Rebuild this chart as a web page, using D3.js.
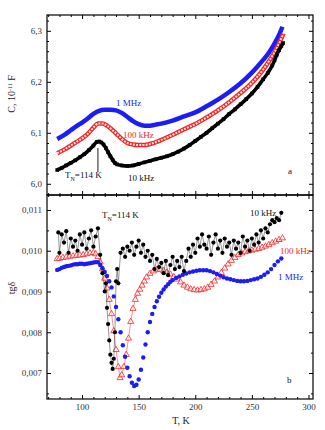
<!DOCTYPE html>
<meta charset="utf-8">
<style>
body {
  margin: 0;
  background: #fff;
}

.axis text {
  font: 9px "Liberation Serif", serif;
  fill: #333;
}

.axis line {
  stroke: #000;
}

.label {
  font: 9px "Liberation Serif", serif;
}

.title {
  font: 10px "Liberation Serif", serif;
  fill: #222;
}
</style>
<body>
  <div id="chart"></div>
</body>
<script src="https://cdn.jsdelivr.net/npm/d3@7/dist/d3.min.js"></script>
<script>

// capacitance C (10^-11 F) vs temperature, panel a
var capT1MHz = [78, 85, 90, 95, 100, 105, 110, 115, 120, 125, 130, 135, 140, 145, 150, 155, 160, 165, 170, 180, 190, 200, 210, 220, 230, 240, 250, 260, 265, 270, 274, 277];
var cap1MHz = [6.088, 6.097, 6.105, 6.113, 6.120, 6.128, 6.137, 6.143, 6.145, 6.145, 6.144, 6.139, 6.131, 6.123, 6.117, 6.114, 6.114, 6.116, 6.118, 6.124, 6.132, 6.140, 6.152, 6.165, 6.180, 6.197, 6.218, 6.243, 6.257, 6.275, 6.292, 6.308];

var capT100kHz = [78, 85, 90, 95, 100, 105, 110, 114, 118, 122, 126, 130, 135, 140, 145, 150, 155, 160, 170, 180, 190, 200, 210, 220, 230, 240, 250, 260, 265, 270, 275, 278];
var cap100kHz = [6.060, 6.068, 6.075, 6.082, 6.089, 6.098, 6.110, 6.118, 6.118, 6.114, 6.107, 6.099, 6.088, 6.080, 6.077, 6.076, 6.076, 6.078, 6.086, 6.096, 6.107, 6.117, 6.130, 6.144, 6.160, 6.178, 6.198, 6.224, 6.240, 6.258, 6.280, 6.295];

var capT10kHz = [78, 82, 86, 90, 94, 98, 102, 106, 110, 113, 115, 117, 119, 121, 123, 125, 127, 129, 131, 135, 140, 145, 150, 155, 160, 165, 170, 175, 180, 185, 190, 195, 200, 205, 210, 215, 220, 225, 230, 235, 240, 245, 250, 255, 260, 264, 268, 270, 272, 274, 276, 277.6];
var cap10kHz = [6.027, 6.031, 6.036, 6.041, 6.046, 6.052, 6.058, 6.066, 6.075, 6.082, 6.083, 6.081, 6.077, 6.070, 6.062, 6.054, 6.047, 6.041, 6.038, 6.036, 6.035, 6.036, 6.039, 6.042, 6.045, 6.048, 6.051, 6.054, 6.058, 6.063, 6.069, 6.076, 6.084, 6.092, 6.100, 6.109, 6.118, 6.127, 6.137, 6.146, 6.156, 6.166, 6.177, 6.190, 6.205, 6.217, 6.232, 6.242, 6.253, 6.262, 6.270, 6.276];

// loss tangent tg(delta) vs temperature, panel b
var tanT1MHz = [78, 80, 82, 84, 86, 88, 90, 92, 94, 96, 98, 100, 102, 104, 106, 108, 110, 112, 114, 116, 118, 120, 122, 124, 126, 128, 130, 132, 134, 136, 138, 140, 142, 144, 146, 148, 150, 152, 154, 156, 158, 160, 162, 164, 166, 168, 170, 172, 174, 176, 178, 180, 183, 186, 189, 192, 195, 198, 201, 204, 207, 210, 213, 216, 219, 222, 225, 228, 231, 234, 237, 240, 243, 246, 249, 252, 255, 258, 261, 264, 267, 270, 273, 276];
var tan1MHz = [0.00953, 0.00955, 0.00958, 0.00960, 0.00962, 0.00963, 0.00964, 0.00966, 0.00967, 0.00967, 0.00968, 0.00968, 0.00967, 0.00968, 0.00969, 0.00970, 0.00971, 0.00972, 0.00972, 0.00965, 0.00957, 0.00948, 0.00938, 0.00925, 0.00910, 0.00888, 0.00862, 0.00832, 0.00800, 0.00768, 0.00740, 0.00713, 0.00692, 0.00676, 0.00668, 0.00671, 0.00684, 0.00708, 0.00738, 0.00770, 0.00800, 0.00825, 0.00845, 0.00862, 0.00876, 0.00887, 0.00897, 0.00905, 0.00912, 0.00918, 0.00924, 0.00928, 0.00933, 0.00937, 0.00941, 0.00944, 0.00947, 0.00949, 0.00951, 0.00952, 0.00952, 0.00952, 0.00950, 0.00947, 0.00943, 0.00939, 0.00935, 0.00932, 0.00930, 0.00928, 0.00926, 0.00925, 0.00925, 0.00926, 0.00928, 0.00930, 0.00932, 0.00936, 0.00941, 0.00947, 0.00955, 0.00965, 0.00974, 0.00981];

var tanT100kHz = [78, 80, 83, 86, 89, 92, 95, 98, 101, 104, 107, 110, 112, 114, 116, 118, 120, 122, 124, 126, 128, 130, 132, 133.5, 135, 137, 139, 141, 143, 145, 147, 149, 151, 153, 155, 157, 160, 163, 166, 169, 172, 175, 178, 181, 184, 187, 190, 193, 196, 199, 202, 205, 208, 211, 214, 217, 220, 223, 226, 229, 232, 235, 238, 241, 244, 247, 250, 253, 256, 259, 262, 265, 268, 271, 274, 277];
var tan100kHz = [0.00980, 0.00981, 0.00983, 0.00984, 0.00986, 0.00987, 0.00988, 0.00989, 0.00990, 0.00992, 0.00994, 0.00995, 0.00992, 0.00985, 0.00972, 0.00955, 0.00932, 0.00908, 0.00880, 0.00845, 0.00803, 0.00757, 0.00715, 0.00688, 0.00695, 0.00715, 0.00745, 0.00785, 0.00826, 0.00858, 0.00880, 0.00895, 0.00905, 0.00915, 0.00925, 0.00935, 0.00944, 0.00950, 0.00954, 0.00954, 0.00951, 0.00947, 0.00942, 0.00936, 0.00930, 0.00923, 0.00915, 0.00910, 0.00906, 0.00904, 0.00903, 0.00904, 0.00906, 0.00910, 0.00917, 0.00925, 0.00935, 0.00946, 0.00957, 0.00967, 0.00976, 0.00983, 0.00990, 0.00994, 0.00997, 0.00999, 0.01001, 0.01003, 0.01005, 0.01008, 0.01011, 0.01015, 0.01019, 0.01023, 0.01027, 0.01031];

var tanT10kHz = [79, 80, 82, 84, 86, 88, 90, 92, 94, 96, 98, 100, 102, 104, 106, 108, 110, 112, 114, 116, 118, 120, 121, 122, 123, 124, 125, 126, 127, 128, 129, 130, 131, 132, 134, 136, 138, 140, 142, 144, 146, 148, 150, 152, 154, 156, 158, 160, 162, 164, 166, 168, 170, 172, 174, 176, 178, 180, 182, 184, 186, 188, 190, 192, 194, 196, 198, 200, 202, 204, 206, 208, 210, 212, 214, 216, 218, 220, 222, 224, 226, 228, 230, 232, 234, 236, 238, 240, 242, 244, 246, 248, 250, 252, 254, 256, 258, 260, 262, 264, 266, 268, 270, 272, 274, 276];
var tan10kHz = [0.01045, 0.00995, 0.01040, 0.01020, 0.01048, 0.00995, 0.01030, 0.01010, 0.01025, 0.01000, 0.01040, 0.01015, 0.01045, 0.01005, 0.01030, 0.01050, 0.01010, 0.01035, 0.01055, 0.00990, 0.00945, 0.00900, 0.00920, 0.00860, 0.00820, 0.00780, 0.00745, 0.00725, 0.00710, 0.00735, 0.00800, 0.00925, 0.00955, 0.00920, 0.00995, 0.01005, 0.00985, 0.01010, 0.01000, 0.01020, 0.00990, 0.01010, 0.01025, 0.00995, 0.01015, 0.00985, 0.01000, 0.00975, 0.00990, 0.00955, 0.00980, 0.00960, 0.00970, 0.00945, 0.00975, 0.00940, 0.00965, 0.00985, 0.00955, 0.00975, 0.00960, 0.00985, 0.00950, 0.00975, 0.01005, 0.00985, 0.01015, 0.00995, 0.01030, 0.01010, 0.01040, 0.01015, 0.01005, 0.01035, 0.00990, 0.01020, 0.01040, 0.01005, 0.01025, 0.00995, 0.01030, 0.01010, 0.01020, 0.00990, 0.01025, 0.01005, 0.01020, 0.00995, 0.01035, 0.01010, 0.01025, 0.01000, 0.01030, 0.01015, 0.01040, 0.01020, 0.01050, 0.01030, 0.01055, 0.01045, 0.01065, 0.01075, 0.01070, 0.01080, 0.01075, 0.01093];

var tempTicks = [100, 150, 200, 250, 300];
var capTicks = [6.0, 6.1, 6.2, 6.3];
var tanTicks = [0.007, 0.008, 0.009, 0.010, 0.011];

var width = 325,
    height = 430,
    left = 47,
    right = 313,
    topA = 15,
    mid = 195,
    bottomB = 399;

var blue = "#1c1cf5",
    red = "#f22626",
    black = "#000";

var svg = d3.select("#chart").append("svg")
    .attr("width", width)
    .attr("height", height);

var x = d3.scaleLinear().domain([69, 304]).range([left, right]);
var yA = d3.scaleLinear().domain([5.978, 6.331]).range([mid, topA]);
var yB = d3.scaleLinear().domain([0.006362, 0.011368]).range([bottomB, mid]);

var xMinor = d3.range(70, 301, 10).filter(function(d) { return d % 50 !== 0; });
var capMinor = d3.range(6.0, 6.33, 0.02).filter(function(d) { return Math.abs(d * 10 - Math.round(d * 10)) > 1e-6; });
var tanMinor = [0.0065, 0.0075, 0.0085, 0.0095, 0.0105];

function comma(f) {
  return function(d) { return d3.format(f)(d).replace(".", ","); };
}

// inward ticks on all four sides of a panel
function frame(y, y0, y1, yTicks, yMinor, yFmt, xLabels) {
  var g = svg.append("g");

  g.append("g").attr("class", "axis")
    .attr("transform", "translate(0," + y0 + ")")
    .call(d3.axisBottom(x).tickValues(tempTicks).tickSize(-4).tickPadding(5)
      .tickFormat(xLabels ? d3.format("d") : ""));
  g.append("g").attr("class", "axis")
    .attr("transform", "translate(0," + y0 + ")")
    .call(d3.axisBottom(x).tickValues(xMinor).tickSize(-2).tickFormat(""));
  g.append("g").attr("class", "axis")
    .attr("transform", "translate(0," + y1 + ")")
    .call(d3.axisTop(x).tickValues(tempTicks).tickSize(-4).tickFormat(""));
  g.append("g").attr("class", "axis")
    .attr("transform", "translate(0," + y1 + ")")
    .call(d3.axisTop(x).tickValues(xMinor).tickSize(-2).tickFormat(""));

  g.append("g").attr("class", "axis")
    .attr("transform", "translate(" + left + ",0)")
    .call(d3.axisLeft(y).tickValues(yTicks).tickSize(-4).tickPadding(5).tickFormat(comma(yFmt)));
  g.append("g").attr("class", "axis")
    .attr("transform", "translate(" + left + ",0)")
    .call(d3.axisLeft(y).tickValues(yMinor).tickSize(-2).tickFormat(""));
  g.append("g").attr("class", "axis")
    .attr("transform", "translate(" + right + ",0)")
    .call(d3.axisRight(y).tickValues(yTicks).tickSize(-4).tickFormat(""));
  g.append("g").attr("class", "axis")
    .attr("transform", "translate(" + right + ",0)")
    .call(d3.axisRight(y).tickValues(yMinor).tickSize(-2).tickFormat(""));

  g.selectAll(".domain").remove();

  g.append("rect")
    .attr("x", left)
    .attr("y", y1)
    .attr("width", right - left)
    .attr("height", y0 - y1)
    .attr("fill", "none")
    .attr("stroke", "#000")
    .attr("stroke-width", 1.2);
}

function zip(ts, vs) {
  return ts.map(function(t, i) { return [t, vs[i]]; });
}

// ---- panel a: capacitance ----
var lineA = d3.line()
    .x(function(d) { return x(d[0]); })
    .y(function(d) { return yA(d[1]); })
    .curve(d3.curveMonotoneX);

var plotA = svg.append("g");

plotA.append("path")
    .datum(zip(capT1MHz, cap1MHz))
    .attr("d", lineA)
    .attr("fill", "none")
    .attr("stroke", blue)
    .attr("stroke-width", 4.5);

// open triangles packed tight: red band with a pale broken core
var red100 = zip(capT100kHz, cap100kHz);
plotA.append("path")
    .datum(red100)
    .attr("d", lineA)
    .attr("fill", "none")
    .attr("stroke", red)
    .attr("stroke-width", 4.5);
plotA.append("path")
    .datum(red100)
    .attr("d", lineA)
    .attr("fill", "none")
    .attr("stroke", "#fde2e2")
    .attr("stroke-width", 2)
    .attr("stroke-dasharray", "2,1.2");

var black10 = zip(capT10kHz, cap10kHz);
plotA.append("path")
    .datum(black10)
    .attr("d", lineA)
    .attr("fill", "none")
    .attr("stroke", black)
    .attr("stroke-width", 3.6);
plotA.selectAll("rect.sq")
    .data(black10)
    .enter().append("rect")
    .attr("class", "sq")
    .attr("x", function(d) { return x(d[0]) - 1.8; })
    .attr("y", function(d) { return yA(d[1]) - 1.8; })
    .attr("width", 3.6)
    .attr("height", 3.6)
    .attr("fill", black);

// T_N marker
plotA.append("line")
    .attr("x1", x(114)).attr("x2", x(114))
    .attr("y1", 148).attr("y2", 172)
    .attr("stroke", "#000")
    .attr("stroke-width", 0.9);

// ---- panel b: loss tangent ----
var pointsRed = zip(tanT100kHz, tan100kHz);
var pointsBlue = zip(tanT1MHz, tan1MHz);
var pointsBlack = zip(tanT10kHz, tan10kHz);

var lineB = d3.line()
    .x(function(d) { return x(d[0]); })
    .y(function(d) { return yB(d[1]); });

var plotB = svg.append("g");

plotB.append("path")
    .datum(pointsRed)
    .attr("d", lineB)
    .attr("fill", "none")
    .attr("stroke", red)
    .attr("stroke-width", 0.5);
plotB.selectAll("path.tri")
    .data(pointsRed)
    .enter().append("path")
    .attr("class", "tri")
    .attr("d", d3.symbol().type(d3.symbolTriangle).size(16))
    .attr("transform", function(d) { return "translate(" + x(d[0]) + "," + yB(d[1]) + ")"; })
    .attr("fill", "#fff")
    .attr("fill-opacity", 0.6)
    .attr("stroke", red)
    .attr("stroke-width", 0.8);

plotB.selectAll("circle.blue")
    .data(pointsBlue)
    .enter().append("circle")
    .attr("class", "blue")
    .attr("cx", function(d) { return x(d[0]); })
    .attr("cy", function(d) { return yB(d[1]); })
    .attr("r", 2.2)
    .attr("fill", blue);

plotB.append("path")
    .datum(pointsBlack)
    .attr("d", lineB)
    .attr("fill", "none")
    .attr("stroke", "#333")
    .attr("stroke-width", 0.5);
plotB.selectAll("circle.black")
    .data(pointsBlack)
    .enter().append("circle")
    .attr("class", "black")
    .attr("cx", function(d) { return x(d[0]); })
    .attr("cy", function(d) { return yB(d[1]); })
    .attr("r", 2.1)
    .attr("fill", black);

frame(yA, mid, topA, capTicks, capMinor, ".1f", false);
frame(yB, bottomB, mid, tanTicks, tanMinor, ".3f", true);

// ---- labels ----
function label(txt, px, py, color) {
  return svg.append("text")
    .attr("class", "label")
    .attr("x", px)
    .attr("y", py)
    .attr("fill", color)
    .text(txt);
}

function tn(px, py) {
  var t = svg.append("text")
    .attr("class", "label")
    .attr("x", px)
    .attr("y", py)
    .attr("fill", "#111");
  t.append("tspan").text("T");
  t.append("tspan").attr("dy", 2.5).style("font-size", "6px").text("N");
  t.append("tspan").attr("dy", -2.5).text("=114 K");
}

label("1 MHz", 116, 106, blue);
label("100 kHz", 123, 138, red);
label("10 kHz", 128, 181, "#111");
tn(65, 178);
label("a", 288, 174, "#111");

tn(102, 218);
label("10 kHz", 250, 216, "#111");
label("100 kHz", 280, 254, red);
label("1 MHz", 278, 280, blue);
label("b", 287, 383, "#111");

var capTitle = svg.append("text")
    .attr("class", "title")
    .attr("transform", "translate(15,94) rotate(-90)")
    .attr("text-anchor", "middle");
capTitle.append("tspan").text("C, 10");
capTitle.append("tspan").attr("dy", -3.5).style("font-size", "6px").text("-11");
capTitle.append("tspan").attr("dy", 3.5).text(" F");

svg.append("text")
    .attr("class", "title")
    .attr("transform", "translate(15,288) rotate(-90)")
    .attr("text-anchor", "middle")
    .text("tgδ");

svg.append("text")
    .attr("class", "title")
    .attr("x", 181)
    .attr("y", 424)
    .attr("text-anchor", "middle")
    .text("T, K");

</script>
